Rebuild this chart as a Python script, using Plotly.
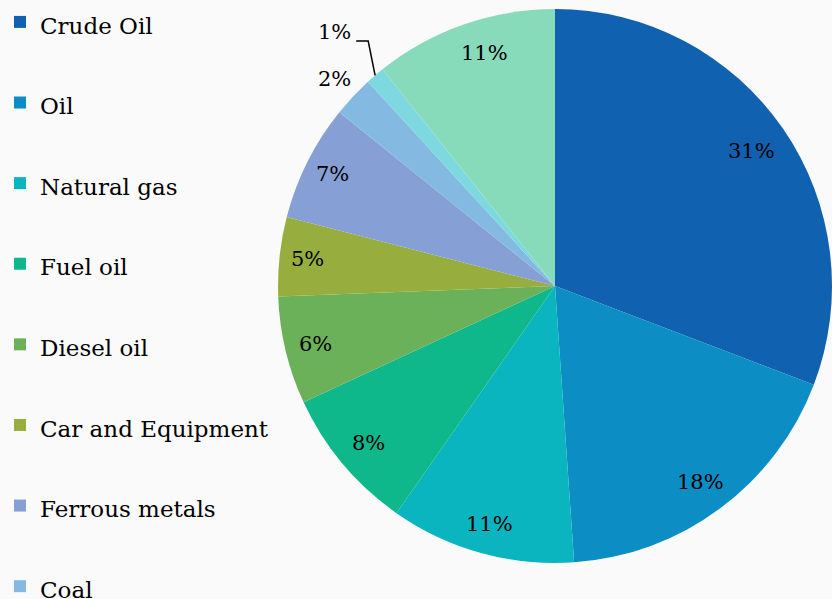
import math
import plotly.graph_objects as go

categories = ["Crude Oil", "Oil", "Natural gas", "Fuel oil", "Diesel oil",
              "Car and Equipment", "Ferrous metals", "Coal", "Electricity", "Other"]
values = [30.8, 18.1, 10.8, 8.4, 6.3, 4.6, 6.8, 2.4, 1.1, 10.7]
colors = ["#1061AF", "#0C8DC4", "#0BB5C0", "#0FB88A", "#6BB159",
          "#97AE3F", "#86A0D5", "#84B9E1", "#7ED8E0", "#87DBBA"]
# radial position of each percentage label (fraction of pie radius)
label_radius = [0.86, 0.88, 0.89, 0.88, 0.89, 0.9, 0.9, 1.09, 1.215, 0.88]
label_angle_shift = [0, 0, 0, 0, 0, 0, 0, 0, -0.5, 2.5]

W, H = 832, 599
dom_x = [278 / W, 1.0]
dom_y = [(H - 565) / H, (H - 7) / H]

legend_labels = ["<span style='font-size:23px'>%s</span><br> " % c for c in categories]

fig = go.Figure(go.Pie(
    labels=legend_labels,
    values=values,
    sort=False,
    direction="clockwise",
    rotation=0,
    marker=dict(colors=colors, line=dict(width=0)),
    textinfo="none",
    domain=dict(x=dom_x, y=dom_y),
    hoverinfo="label+percent",
))

# pie geometry (plotly fits the pie in the square of its domain)
px_w = (dom_x[1] - dom_x[0]) * W
px_h = (dom_y[1] - dom_y[0]) * H
R = min(px_w, px_h) / 2
cx = (dom_x[0] + dom_x[1]) / 2 * W
cy = (1 - (dom_y[0] + dom_y[1]) / 2) * H  # from top


def to_paper(px, py_top):
    return px / W, 1 - py_top / H


total = sum(values)
cum = 0.0
mids = []
for v in values:
    mids.append((cum + v / 2) / total * 360.0)
    cum += v

annotations = []
for i, v in enumerate(values):
    ang = math.radians(mids[i] + label_angle_shift[i])
    r = label_radius[i] * R
    px = cx + r * math.sin(ang)
    py = cy - r * math.cos(ang)
    x, y = to_paper(px, py)
    annotations.append(dict(
        x=x, y=y, xref="paper", yref="paper",
        text="%d%%" % round(v / total * 100),
        showarrow=False, xanchor="center", yanchor="middle",
        font=dict(family="DejaVu Serif", size=21, color="black"),
    ))

# leader line for the 1% label
i1 = 8
ang = math.radians(mids[i1] + label_angle_shift[i1])
lx = cx + label_radius[i1] * R * math.sin(ang)
ly = cy - label_radius[i1] * R * math.cos(ang)
sx, sy = lx + 22, ly + 9
ex, ey = sx + 12, sy
ang_m = math.radians(mids[i1])
tx, ty = cx + R * math.sin(ang_m), cy - R * math.cos(ang_m)
p = [to_paper(sx, sy), to_paper(ex, ey), to_paper(tx, ty)]
path = "M %f,%f L %f,%f L %f,%f" % (p[0][0], p[0][1], p[1][0], p[1][1], p[2][0], p[2][1])

fig.update_layout(
    width=W, height=H,
    margin=dict(l=0, r=0, t=0, b=0, autoexpand=False),
    paper_bgcolor="#fafafa",
    plot_bgcolor="#fafafa",
    showlegend=True,
    legend=dict(
        x=0, y=1 + 4 / H, xanchor="left", yanchor="top",
        font=dict(family="DejaVu Serif", size=29.85, color="black"),
        valign="top",
        bgcolor="rgba(0,0,0,0)",
        traceorder="normal",
        maxheight=1200,
    ),
    annotations=annotations,
    shapes=[dict(type="path", xref="paper", yref="paper", path=path,
                 line=dict(color="black", width=1.5), layer="above")],
)

fig.write_html(
    "out.html",
    config={"staticPlot": True},
    post_script="document.body.style.margin='0';document.body.style.background='#fafafa';",
)
